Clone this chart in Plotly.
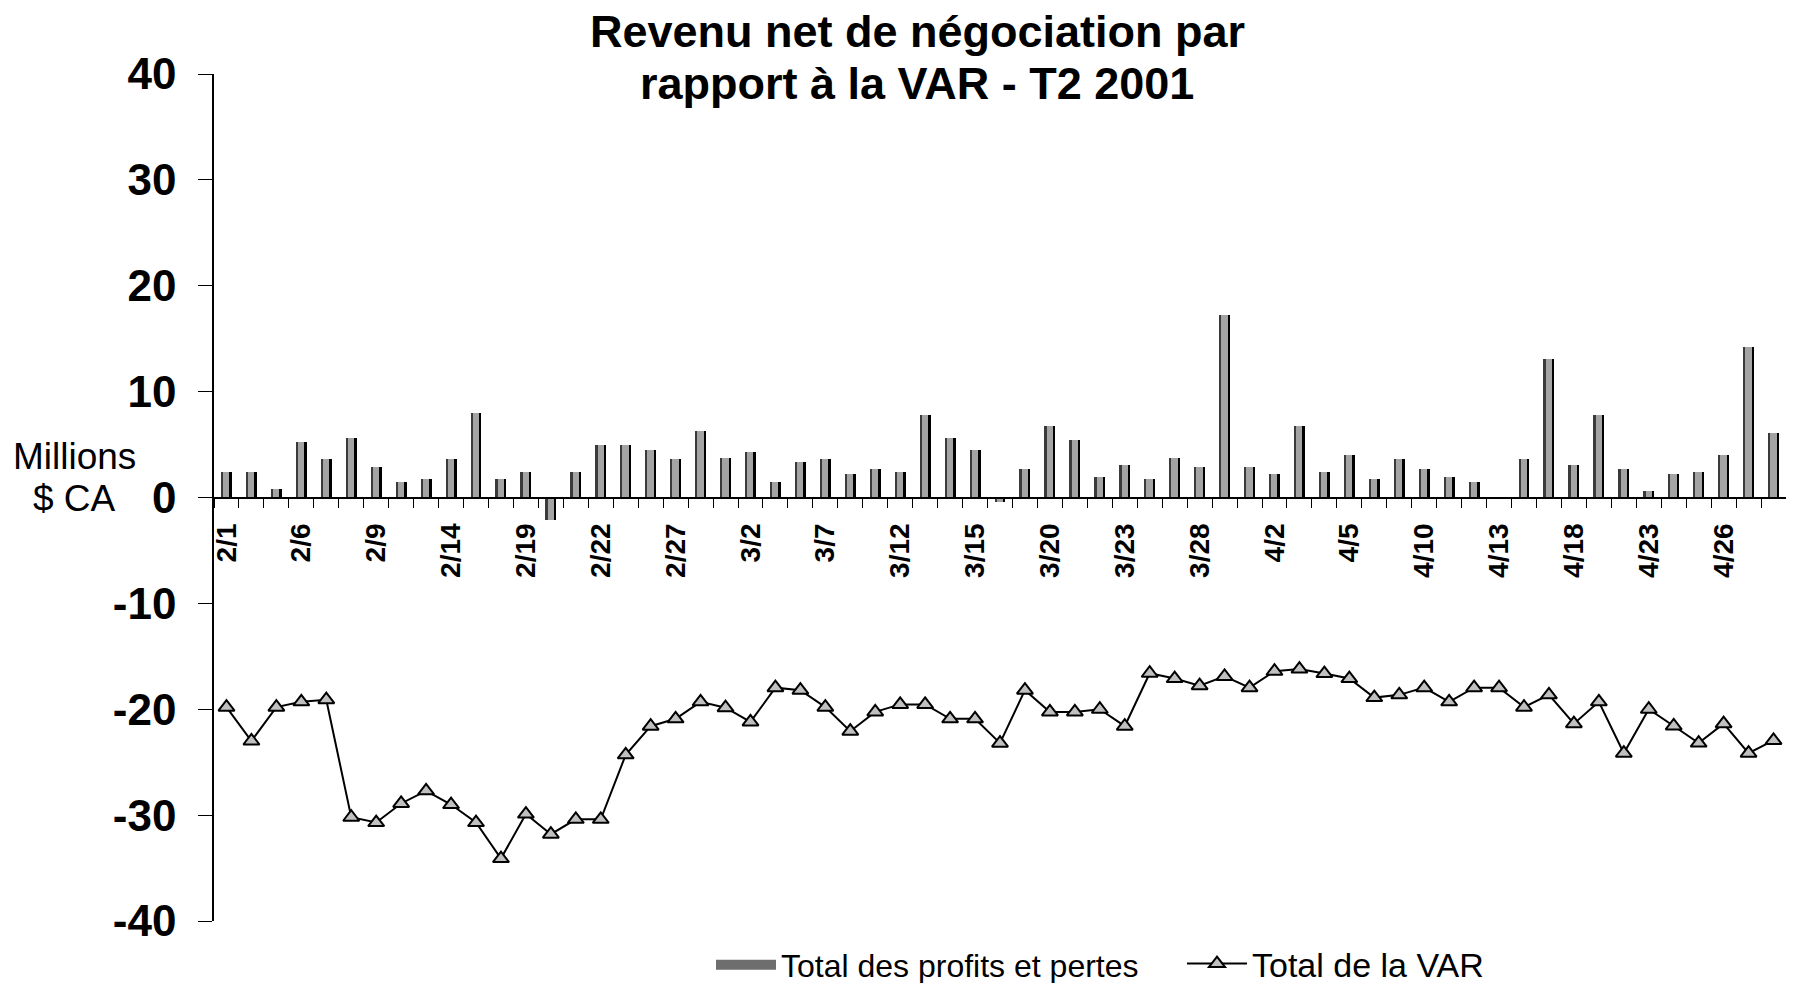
import plotly.graph_objects as go

dates = ["2/1","2/2","2/5","2/6","2/7","2/8","2/9","2/12","2/13","2/14","2/15","2/16",
         "2/19","2/20","2/21","2/22","2/23","2/26","2/27","2/28","3/1","3/2","3/5","3/6",
         "3/7","3/8","3/9","3/12","3/13","3/14","3/15","3/16","3/19","3/20","3/21","3/22",
         "3/23","3/26","3/27","3/28","3/29","3/30","4/2","4/3","4/4","4/5","4/6","4/9",
         "4/10","4/11","4/12","4/13","4/16","4/17","4/18","4/19","4/20","4/23","4/24",
         "4/25","4/26","4/27","4/30"]

pnl = [2.4, 2.4, 0.8, 5.2, 3.6, 5.65, 2.9, 1.5, 1.75, 3.6,
       8.0, 1.75, 2.4, -2.1, 2.4, 5.0, 5.0, 4.5, 3.6, 6.3,
       3.75, 4.3, 1.5, 3.4, 3.6, 2.2, 2.7, 2.4, 7.75, 5.65,
       4.5, -0.4, 2.7, 6.8, 5.45, 1.95, 3.1, 1.75, 3.75, 2.9,
       17.25, 2.9, 2.2, 6.8, 2.4, 4.0, 1.75, 3.6, 2.7, 1.95,
       1.5, 0.0, 3.6, 13.1, 3.1, 7.75, 2.7, 0.6, 2.2, 2.4,
       4.0, 14.2, 6.1]

var = [-19.8, -23.0, -19.8, -19.3, -19.1, -30.2, -30.7, -28.9, -27.7, -29.0,
       -30.7, -34.1, -29.9, -31.8, -30.4, -30.4, -24.3, -21.6, -20.9, -19.3,
       -19.85, -21.2, -17.96, -18.2, -19.8, -22.07, -20.25, -19.54, -19.54, -20.9,
       -20.9, -23.2, -18.2, -20.25, -20.25, -20.0, -21.6, -16.6, -17.1, -17.77,
       -16.9, -17.96, -16.41, -16.2, -16.63, -17.1, -18.9, -18.64, -17.96, -19.3,
       -17.96, -17.96, -19.8, -18.64, -21.36, -19.3, -24.15, -20.0, -21.58, -23.19,
       -21.36, -24.15, -22.94]

yticks = [-40, -30, -20, -10, 0, 10, 20, 30, 40]
yticklabels = ["-40", "-30", "-20", "-10", "0", "10", "20", "30", "40"]

FONT = "Liberation Sans, Arial, sans-serif"
x = list(range(len(dates)))

fig = go.Figure()
# each bar drawn as three overlaid layers to mimic the shaded bar
fig.add_trace(go.Bar(x=x, y=pnl, width=0.44, offset=-0.22, marker=dict(color="#000000", line=dict(width=0)),
                     showlegend=False, hoverinfo="skip", legendgroup="pnl"))
fig.add_trace(go.Bar(x=x, y=pnl, width=0.34, offset=-0.22, marker=dict(color="#3a3a3a", line=dict(width=0)),
                     showlegend=False, hoverinfo="skip", legendgroup="pnl"))
fig.add_trace(go.Bar(x=x, y=pnl, width=0.25, offset=-0.13, marker=dict(color="#a4a4a4", line=dict(width=0)),
                     showlegend=False, legendgroup="pnl", name="Total des profits et pertes"))
# legend swatch for the bars (no data drawn)
fig.add_trace(go.Scatter(x=[None], y=[None], mode="lines", name="Total des profits et pertes",
                         line=dict(color="#6e6e6e", width=17), legendgroup="pnl", legend="legend"))
fig.add_trace(go.Scatter(x=x, y=var, mode="lines+markers", name="Total de la VAR",
                         line=dict(color="black", width=2),
                         marker=dict(symbol="triangle-up", size=14, color="#c0c0c0",
                                     line=dict(color="black", width=2)),
                         legend="legend2"))

OFF = 8  # page body margin
W, H = 1794 - 2 * OFF, 983 - OFF
L, T = 214 - OFF, 74 - OFF
B = H - (921 - OFF)
R = 0
pw = W - L - R
ph = H - T - B


def px(page_x):
    return (page_x - OFF - L) / pw


def py(page_y):
    return (H - B - (page_y - OFF)) / ph


fig.update_layout(
    width=W, height=H, margin=dict(l=L, r=R, t=T, b=B, autoexpand=False),
    paper_bgcolor="white", plot_bgcolor="white",
    barmode="overlay", bargap=0,
    font=dict(family=FONT, color="black"),
    showlegend=True,
    legend=dict(orientation="h", x=px(711), xanchor="left", y=py(965), yanchor="middle",
                font=dict(size=32, family=FONT, color="black"), itemwidth=60,
                bgcolor="rgba(0,0,0,0)"),
    legend2=dict(orientation="h", x=px(1182), xanchor="left", y=py(964), yanchor="middle",
                 font=dict(size=34, family=FONT, color="black"), itemwidth=60,
                 bgcolor="rgba(0,0,0,0)"),
    xaxis=dict(range=[-0.5, len(dates) - 0.5], anchor="free", position=0.5,
               showline=True, linecolor="black", linewidth=1.5,
               tickvals=x[::3], ticktext=dates[::3], tickangle=-90, ticks="",
               tickfont=dict(size=28, family=FONT, color="black", weight="bold"),
               ticklabelstandoff=14,
               minor=dict(tick0=-0.5, dtick=1, ticks="outside", ticklen=10, tickcolor="black", tickwidth=1.2),
               showgrid=False, zeroline=False),
    xaxis2=dict(range=[-0.5, len(dates) - 0.5], overlaying="x", anchor="free", position=0.5,
                showline=False, showticklabels=False, ticks="inside", ticklen=10, tickcolor="black", tickwidth=1.2,
                tick0=-0.5, dtick=1, showgrid=False, zeroline=False),
    yaxis=dict(range=[-40, 40], showline=True, linecolor="black", linewidth=1.5,
               tickvals=yticks, ticktext=yticklabels, ticks="outside", ticklen=14, tickcolor="black", tickwidth=1.2,
               tickfont=dict(size=44, family=FONT, color="black", weight="bold"),
               ticklabelstandoff=13,
               showgrid=False, zeroline=False),
    yaxis2=dict(range=[-40, 40], overlaying="y", anchor="free", position=0, side="left",
                showline=False, showticklabels=False, tickvals=yticks, ticks="inside", ticklen=14,
                tickcolor="black", tickwidth=1.2, showgrid=False, zeroline=False),
)

annos = [
    dict(text="<b>Revenu net de négociation par</b>", x=px(917), y=py(31),
         font=dict(size=45, family=FONT, color="black")),
    dict(text="<b>rapport à la VAR - T2 2001</b>", x=px(917), y=py(83),
         font=dict(size=45, family=FONT, color="black")),
    dict(text="Millions", x=px(74), y=py(456),
         font=dict(size=37, family=FONT, color="black")),
    dict(text="$ CA", x=px(74), y=py(498),
         font=dict(size=37, family=FONT, color="black")),
]
for a in annos:
    fig.add_annotation(xref="paper", yref="paper", xanchor="center", yanchor="middle",
                       showarrow=False, **a)

fig.write_html("out.html")
